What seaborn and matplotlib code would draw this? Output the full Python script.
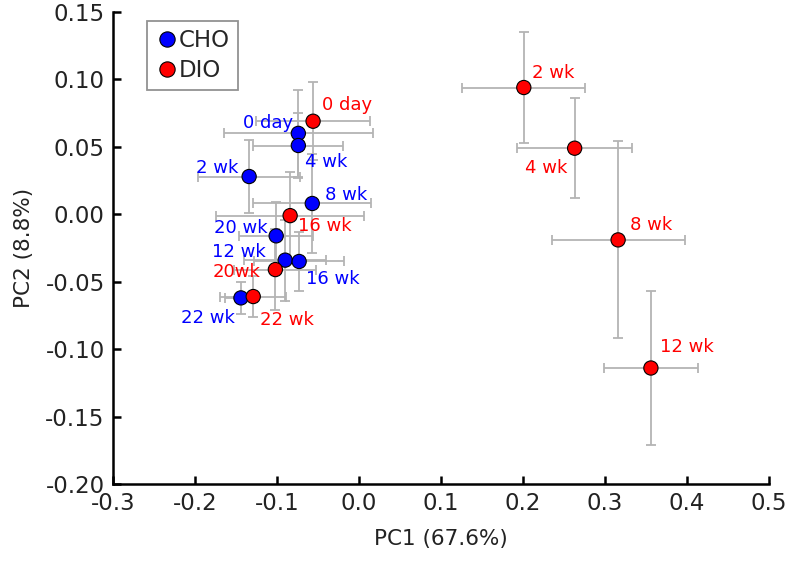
import matplotlib
matplotlib.use("Agg")
import matplotlib.pyplot as plt
from matplotlib.lines import Line2D
import seaborn as sns
import pandas as pd

# PCA scores (mean +/- error) per time point
cho_labels = ["0 day", "2 wk", "4 wk", "8 wk", "12 wk", "16 wk", "20 wk", "22 wk"]
cho_pc1 = [-0.074, -0.134, -0.074, -0.057, -0.090, -0.073, -0.101, -0.144]
cho_pc2 = [0.060, 0.028, 0.051, 0.008, -0.034, -0.035, -0.016, -0.062]
cho_pc1_err = [0.091, 0.062, 0.055, 0.072, 0.050, 0.055, 0.045, 0.020]
cho_pc2_err = [0.032, 0.027, 0.024, 0.037, 0.030, 0.022, 0.025, 0.012]

dio_labels = ["0 day", "2 wk", "4 wk", "8 wk", "12 wk", "16 wk", "20wk", "22 wk"]
dio_pc1 = [-0.056, 0.201, 0.263, 0.316, 0.356, -0.084, -0.102, -0.129]
dio_pc2 = [0.069, 0.094, 0.049, -0.019, -0.114, -0.001, -0.041, -0.061]
dio_pc1_err = [0.070, 0.075, 0.070, 0.081, 0.057, 0.090, 0.050, 0.040]
dio_pc2_err = [0.029, 0.041, 0.037, 0.073, 0.057, 0.032, 0.030, 0.015]

# label offsets in pixels (dx, dy, ha)
cho_offsets = [(-5, 10, "right"), (-11, 9, "right"), (7, -16, "left"), (13, 8, "left"),
               (-19, 8, "right"), (7, -18, "left"), (-9, 8, "right"), (-6, -20, "right")]
dio_offsets = [(9, 16, "left"), (8, 15, "left"), (-7, -20, "right"), (12, 15, "left"),
               (9, 21, "left"), (8, -10, "left"), (-15, -2, "right"), (7, -23, "left")]

colors = {"CHO": "#0000ff", "DIO": "#ff0000"}

df = pd.concat([
    pd.DataFrame({"group": "CHO", "label": cho_labels, "pc1": cho_pc1, "pc2": cho_pc2,
                  "pc1_err": cho_pc1_err, "pc2_err": cho_pc2_err}),
    pd.DataFrame({"group": "DIO", "label": dio_labels, "pc1": dio_pc1, "pc2": dio_pc2,
                  "pc1_err": dio_pc1_err, "pc2_err": dio_pc2_err}),
], ignore_index=True)

sns.set_style("ticks")
plt.rcParams["font.family"] = ["DejaVu Sans"]

fig = plt.figure(figsize=(7.87, 5.66), dpi=100)
ax = fig.add_axes([0.1436, 0.1449, 0.8335, 0.8339])

ax.errorbar(df["pc1"], df["pc2"], xerr=df["pc1_err"], yerr=df["pc2_err"], fmt="none",
            ecolor="#b4b4b4", elinewidth=1.3, capsize=3.6, capthick=1.3, zorder=1)

sns.scatterplot(data=df, x="pc1", y="pc2", hue="group", palette=colors, s=105,
                edgecolor="black", linewidth=0.8, legend=False, zorder=3, ax=ax)

for (grp, offs) in (("CHO", cho_offsets), ("DIO", dio_offsets)):
    sub = df[df["group"] == grp].reset_index(drop=True)
    for i, row in sub.iterrows():
        dx, dy, ha = offs[i]
        ax.annotate(row["label"], (row["pc1"], row["pc2"]), xytext=(dx * 0.72, dy * 0.72),
                    textcoords="offset points", ha=ha, va="center", fontsize=13,
                    color=colors[grp], zorder=4)

ax.set_xlim(-0.3, 0.5)
ax.set_ylim(-0.20, 0.15)
ax.set_xticks([-0.3, -0.2, -0.1, 0.0, 0.1, 0.2, 0.3, 0.4, 0.5])
ax.set_yticks([-0.20, -0.15, -0.10, -0.05, 0.00, 0.05, 0.10, 0.15])
ax.set_xticklabels([f"{v:.1f}" for v in ax.get_xticks()])
ax.set_yticklabels([f"{v:.2f}" for v in ax.get_yticks()])
ax.tick_params(direction="in", length=6, width=1.8, labelsize=16.5, colors="black", pad=6)
for t in ax.get_xticklabels() + ax.get_yticklabels():
    t.set_color("#222222")
for side in ("left", "bottom"):
    ax.spines[side].set_linewidth(1.8)
    ax.spines[side].set_color("black")
sns.despine(ax=ax)

ax.set_xlabel("PC1 (67.6%)", fontsize=15.5, labelpad=10, color="#222222")
ax.set_ylabel("PC2 (8.8%)", fontsize=15.5, labelpad=8, color="#222222")

handles = [Line2D([], [], marker="o", linestyle="none", markersize=11,
                  markerfacecolor=colors[g], markeredgecolor="black", markeredgewidth=0.8)
           for g in ("CHO", "DIO")]
leg = ax.legend(handles, ["CHO", "DIO"], loc="upper left", bbox_to_anchor=(0.052, 0.981),
                borderaxespad=0, fancybox=False, frameon=True, fontsize=16.5,
                handletextpad=0.05, handlelength=1.0, labelspacing=0.3, borderpad=0.35)
leg.get_frame().set_edgecolor("#777777")
leg.get_frame().set_linewidth(1.3)

fig.savefig("out.png", dpi=100)
